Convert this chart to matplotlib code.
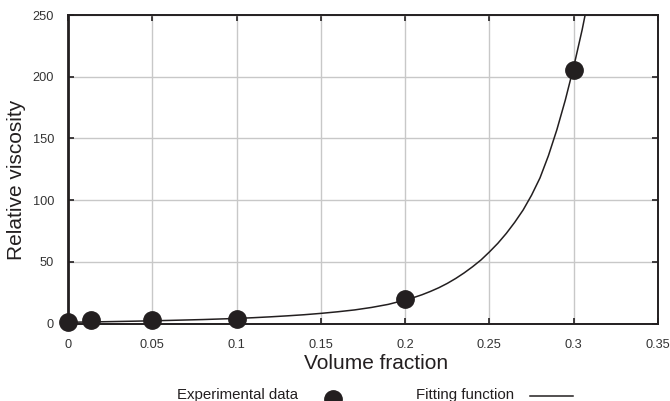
import matplotlib.pyplot as plt
from matplotlib.lines import Line2D

plt.rcParams['font.family'] = ['Liberation Sans', 'DejaVu Sans']

# measured relative viscosity
phi_exp = [0.0, 0.0135, 0.05, 0.1, 0.2, 0.3]
eta_exp = [1.0, 2.7, 3.2, 4.0, 19.5, 205.5]

# fitted curve, sampled
phi_fit = [0.0, 0.02, 0.04, 0.06, 0.08, 0.10, 0.11, 0.12, 0.13, 0.14,
           0.15, 0.16, 0.17, 0.18, 0.19, 0.20, 0.205, 0.21, 0.215, 0.22,
           0.225, 0.23, 0.235, 0.24, 0.245, 0.25, 0.255, 0.26, 0.265, 0.27,
           0.275, 0.28, 0.285, 0.29, 0.295, 0.30, 0.305, 0.31]
eta_fit = [1.0, 1.4, 1.9, 2.5, 3.2, 4.1, 4.7, 5.4, 6.2, 7.1,
           8.2, 9.5, 11.0, 13.0, 15.5, 19.0, 21.0, 23.3, 26.0, 29.0,
           32.5, 36.5, 41.0, 46.0, 51.5, 58.0, 65.0, 73.0, 82.0, 92.0,
           104.0, 118.0, 136.0, 157.0, 181.0, 208.0, 238.0, 272.0]

xticks = [0, 0.05, 0.1, 0.15, 0.2, 0.25, 0.3, 0.35]
xticklabels = ['0', '0.05', '0.1', '0.15', '0.2', '0.25', '0.3', '0.35']
yticks = [0, 50, 100, 150, 200, 250]

ink = '#231f20'
W, H = 670, 401

fig = plt.figure(figsize=(6.7, 4.01), dpi=100)
ax = fig.add_axes([68 / W, 1 - 323.5 / H, 590 / W, 308.5 / H])

ax.plot(phi_fit, eta_fit, color=ink, lw=1.1, zorder=3)
ax.plot(phi_exp, eta_exp, 'o', color=ink, ms=12.5, clip_on=False, zorder=4)

ax.set_xlim(0, 0.35)
ax.set_ylim(0, 250)
ax.set_xticks(xticks)
ax.set_xticklabels(xticklabels)
ax.set_yticks(yticks)
ax.grid(True, color='#c8c8c8', lw=1.0)
ax.set_axisbelow(True)

for side in ['top', 'right', 'bottom']:
    ax.spines[side].set_color(ink)
    ax.spines[side].set_linewidth(1.4)
ax.spines['left'].set_color(ink)
ax.spines['left'].set_linewidth(2.0)

ax.tick_params(direction='in', length=4, width=1.2, color=ink,
               top=True, right=True, labelsize=9.2, labelcolor='#333333')
ax.tick_params(axis='x', pad=11)
ax.tick_params(axis='y', pad=10)

# axis titles
fig.text(376 / W, 1 - 369 / H, 'Volume fraction', fontsize=15, color=ink,
         ha='center', va='baseline')
fig.text(17 / W, 1 - 180 / H, 'Relative viscosity', fontsize=15, color=ink,
         ha='center', va='center', rotation=90)

# key along the bottom edge
fig.text(177 / W, 1 - 398.5 / H, 'Experimental data', fontsize=10.8, color=ink,
         ha='left', va='baseline')
fig.add_artist(Line2D([332.5 / W], [1 - 398.5 / H], marker='o', ls='none',
                      color=ink, ms=12.5, transform=fig.transFigure))
fig.text(416 / W, 1 - 398.5 / H, 'Fitting function', fontsize=10.8, color=ink,
         ha='left', va='baseline')
fig.add_artist(Line2D([530 / W, 573 / W], [1 - 396 / H, 1 - 396 / H],
                      color=ink, lw=1.1, transform=fig.transFigure))

fig.savefig('out.png', dpi=100)
